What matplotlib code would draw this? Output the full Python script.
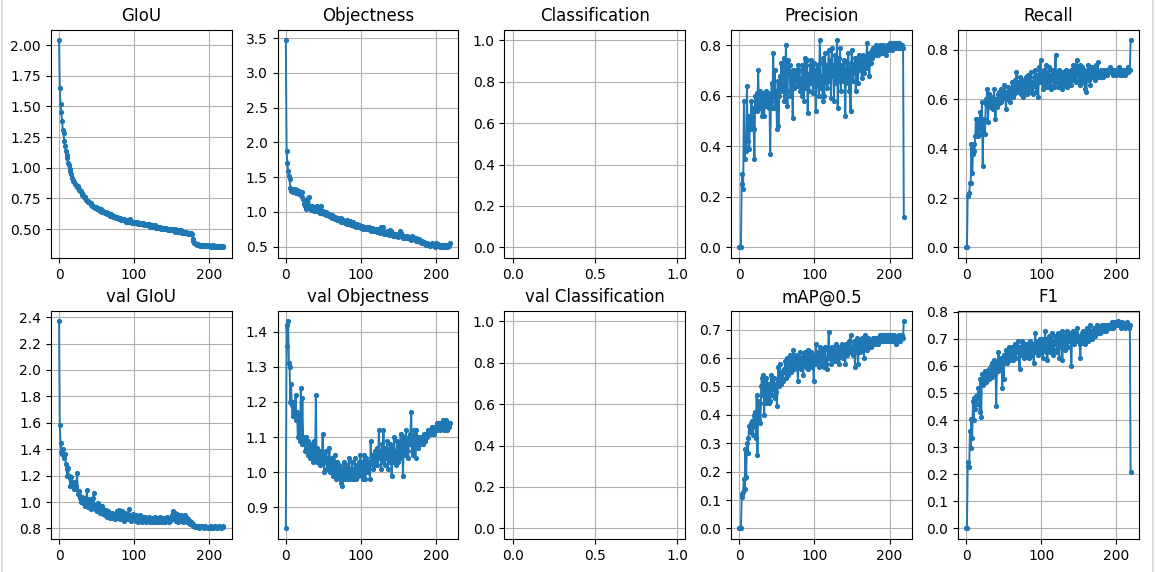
import numpy as np
import matplotlib
matplotlib.use('Agg')
from matplotlib import pyplot as plt
from matplotlib.lines import Line2D

# training curves, one value per epoch (0..219)
giou = [2.04, 1.65, 1.52, 1.45, 1.38, 1.31, 1.28, 1.22, 1.18, 1.14,
        1.10, 1.08, 1.04, 1.02, 0.99, 0.97, 0.95, 0.92, 0.90, 0.89,
        0.88, 0.87, 0.86, 0.86, 0.84, 0.85, 0.83, 0.82, 0.81, 0.81,
        0.79, 0.78, 0.78, 0.76, 0.76, 0.75, 0.74, 0.73, 0.73, 0.72,
        0.72, 0.71, 0.70, 0.71, 0.69, 0.69, 0.68, 0.68, 0.67, 0.68,
        0.67, 0.66, 0.67, 0.66, 0.65, 0.65, 0.66, 0.64, 0.65, 0.64,
        0.64, 0.63, 0.64, 0.63, 0.62, 0.63, 0.62, 0.62, 0.61, 0.62,
        0.61, 0.61, 0.60, 0.61, 0.60, 0.60, 0.59, 0.60, 0.59, 0.59,
        0.58, 0.59, 0.58, 0.57, 0.58, 0.57, 0.58, 0.57, 0.57, 0.56,
        0.57, 0.56, 0.57, 0.56, 0.56, 0.58, 0.56, 0.55, 0.56, 0.56,
        0.55, 0.56, 0.55, 0.55, 0.56, 0.54, 0.55, 0.55, 0.54, 0.55,
        0.54, 0.54, 0.55, 0.53, 0.54, 0.54, 0.53, 0.54, 0.53, 0.53,
        0.54, 0.52, 0.53, 0.53, 0.52, 0.53, 0.52, 0.52, 0.53, 0.51,
        0.52, 0.51, 0.52, 0.51, 0.51, 0.52, 0.50, 0.51, 0.51, 0.50,
        0.51, 0.50, 0.50, 0.51, 0.50, 0.49, 0.50, 0.50, 0.49, 0.50,
        0.49, 0.50, 0.49, 0.49, 0.50, 0.48, 0.49, 0.49, 0.48, 0.49,
        0.48, 0.48, 0.49, 0.48, 0.47, 0.48, 0.48, 0.47, 0.47, 0.48,
        0.47, 0.47, 0.46, 0.47, 0.47, 0.46, 0.47, 0.46, 0.42, 0.40,
        0.39, 0.39, 0.38, 0.38, 0.37, 0.38, 0.37, 0.37, 0.36, 0.37,
        0.37, 0.36, 0.36, 0.37, 0.36, 0.36, 0.37, 0.36, 0.36, 0.36,
        0.37, 0.36, 0.36, 0.35, 0.36, 0.37, 0.36, 0.35, 0.36, 0.36,
        0.35, 0.36, 0.36, 0.35, 0.36, 0.35, 0.36, 0.35, 0.35, 0.36]

objectness = [3.47, 1.87, 1.71, 1.59, 1.52, 1.47, 1.35, 1.30, 1.33, 1.29,
              1.31, 1.28, 1.33, 1.30, 1.27, 1.32, 1.29, 1.26, 1.30, 1.27,
              1.25, 1.28, 1.22, 1.18, 1.12, 1.08, 1.15, 1.04, 1.12, 1.20,
              1.10, 1.22, 1.05, 1.08, 1.03, 1.09, 1.06, 1.02, 1.07, 1.05,
              1.03, 1.08, 1.01, 1.06, 1.00, 1.04, 0.99, 1.09, 1.02, 0.98,
              1.01, 0.97, 0.99, 1.00, 0.96, 0.98, 0.95, 0.97, 0.94, 0.96,
              0.93, 0.95, 0.92, 0.94, 0.91, 0.93, 0.90, 0.92, 0.89, 0.91,
              0.88, 0.90, 0.87, 0.91, 0.86, 0.88, 0.89, 0.85, 0.87, 0.84,
              0.86, 0.83, 0.88, 0.85, 0.82, 0.87, 0.84, 0.81, 0.83, 0.85,
              0.82, 0.80, 0.83, 0.81, 0.79, 0.82, 0.80, 0.78, 0.81, 0.79,
              0.77, 0.80, 0.78, 0.76, 0.79, 0.77, 0.75, 0.78, 0.76, 0.77,
              0.75, 0.78, 0.74, 0.76, 0.73, 0.77, 0.75, 0.72, 0.74, 0.76,
              0.73, 0.71, 0.75, 0.72, 0.74, 0.70, 0.73, 0.78, 0.71, 0.79,
              0.72, 0.69, 0.71, 0.68, 0.70, 0.72, 0.69, 0.67, 0.70, 0.74,
              0.72, 0.68, 0.70, 0.66, 0.69, 0.67, 0.65, 0.68, 0.66, 0.64,
              0.67, 0.65, 0.72, 0.68, 0.70, 0.65, 0.63, 0.66, 0.64, 0.62,
              0.65, 0.63, 0.66, 0.62, 0.64, 0.61, 0.63, 0.60, 0.66, 0.62,
              0.64, 0.61, 0.62, 0.59, 0.63, 0.60, 0.58, 0.61, 0.59, 0.57,
              0.58, 0.56, 0.59, 0.55, 0.57, 0.54, 0.56, 0.53, 0.55, 0.52,
              0.54, 0.53, 0.51, 0.54, 0.52, 0.55, 0.53, 0.51, 0.52, 0.50,
              0.56, 0.53, 0.51, 0.54, 0.52, 0.50, 0.53, 0.51, 0.49, 0.52,
              0.50, 0.53, 0.51, 0.49, 0.52, 0.50, 0.53, 0.51, 0.52, 0.55]

precision = [0.00, 0.00, 0.00, 0.25, 0.29, 0.23, 0.58, 0.35, 0.40, 0.38,
             0.64, 0.42, 0.52, 0.39, 0.50, 0.47, 0.58, 0.48, 0.55, 0.47,
             0.35, 0.60, 0.55, 0.61, 0.54, 0.70, 0.55, 0.62, 0.60, 0.56,
             0.52, 0.61, 0.58, 0.52, 0.60, 0.62, 0.56, 0.59, 0.61, 0.55,
             0.60, 0.37, 0.58, 0.65, 0.55, 0.77, 0.60, 0.70, 0.55, 0.62,
             0.47, 0.66, 0.48, 0.60, 0.68, 0.62, 0.73, 0.64, 0.70, 0.75,
             0.58, 0.68, 0.80, 0.62, 0.56, 0.74, 0.69, 0.72, 0.60, 0.66,
             0.68, 0.51, 0.70, 0.63, 0.68, 0.66, 0.70, 0.64, 0.72, 0.65,
             0.70, 0.62, 0.67, 0.60, 0.72, 0.66, 0.58, 0.75, 0.63, 0.69,
             0.74, 0.53, 0.68, 0.62, 0.72, 0.65, 0.74, 0.70, 0.61, 0.73,
             0.64, 0.70, 0.54, 0.68, 0.72, 0.66, 0.60, 0.82, 0.73, 0.63,
             0.68, 0.58, 0.75, 0.60, 0.77, 0.65, 0.72, 0.63, 0.70, 0.78,
             0.66, 0.74, 0.59, 0.79, 0.68, 0.72, 0.58, 0.76, 0.65, 0.71,
             0.82, 0.55, 0.75, 0.66, 0.79, 0.62, 0.72, 0.70, 0.66, 0.74,
             0.68, 0.52, 0.70, 0.73, 0.65, 0.77, 0.62, 0.71, 0.54, 0.73,
             0.78, 0.66, 0.72, 0.69, 0.75, 0.62, 0.74, 0.70, 0.65, 0.76,
             0.72, 0.70, 0.74, 0.67, 0.76, 0.72, 0.69, 0.75, 0.71, 0.73,
             0.81, 0.72, 0.77, 0.68, 0.76, 0.73, 0.78, 0.75, 0.79, 0.77,
             0.76, 0.78, 0.80, 0.77, 0.79, 0.76, 0.78, 0.80, 0.77, 0.79,
             0.78, 0.80, 0.77, 0.79, 0.78, 0.76, 0.79, 0.80, 0.78, 0.80,
             0.81, 0.79, 0.80, 0.78, 0.81, 0.79, 0.80, 0.81, 0.79, 0.80,
             0.81, 0.80, 0.79, 0.81, 0.80, 0.79, 0.80, 0.79, 0.79, 0.12]

recall = [0.00, 0.00, 0.21, 0.21, 0.22, 0.26, 0.26, 0.42, 0.30, 0.38,
          0.42, 0.39, 0.45, 0.52, 0.46, 0.50, 0.45, 0.52, 0.48, 0.55,
          0.46, 0.59, 0.33, 0.50, 0.52, 0.46, 0.58, 0.60, 0.64, 0.51,
          0.60, 0.62, 0.57, 0.60, 0.58, 0.61, 0.56, 0.64, 0.59, 0.52,
          0.60, 0.57, 0.62, 0.58, 0.63, 0.61, 0.59, 0.64, 0.60, 0.62,
          0.61, 0.66, 0.62, 0.56, 0.63, 0.60, 0.65, 0.62, 0.64, 0.59,
          0.63, 0.67, 0.61, 0.65, 0.62, 0.68, 0.64, 0.71, 0.66, 0.63,
          0.67, 0.64, 0.69, 0.62, 0.66, 0.61, 0.68, 0.65, 0.63, 0.69,
          0.66, 0.62, 0.70, 0.64, 0.68, 0.63, 0.71, 0.65, 0.67, 0.62,
          0.69, 0.66, 0.72, 0.63, 0.70, 0.67, 0.61, 0.73, 0.68, 0.76,
          0.67, 0.70, 0.64, 0.72, 0.66, 0.69, 0.74, 0.65, 0.71, 0.68,
          0.73, 0.66, 0.70, 0.64, 0.72, 0.68, 0.71, 0.65, 0.70, 0.78,
          0.67, 0.71, 0.65, 0.69, 0.72, 0.66, 0.70, 0.64, 0.68, 0.71,
          0.66, 0.70, 0.67, 0.72, 0.65, 0.69, 0.71, 0.67, 0.70, 0.66,
          0.72, 0.68, 0.74, 0.69, 0.71, 0.73, 0.67, 0.76, 0.70, 0.72,
          0.68, 0.74, 0.66, 0.71, 0.73, 0.67, 0.70, 0.72, 0.64, 0.71,
          0.63, 0.69, 0.74, 0.68, 0.72, 0.66, 0.71, 0.69, 0.73, 0.70,
          0.72, 0.68, 0.71, 0.74, 0.69, 0.75, 0.70, 0.71, 0.69, 0.72,
          0.70, 0.71, 0.69, 0.71, 0.72, 0.70, 0.71, 0.72, 0.70, 0.71,
          0.72, 0.71, 0.73, 0.71, 0.72, 0.70, 0.72, 0.71, 0.72, 0.71,
          0.70, 0.72, 0.71, 0.73, 0.71, 0.70, 0.72, 0.71, 0.70, 0.71,
          0.72, 0.71, 0.70, 0.72, 0.71, 0.73, 0.71, 0.72, 0.72, 0.84]

val_giou = [2.37, 1.58, 1.45, 1.38, 1.36, 1.40, 1.35, 1.33, 1.36, 1.29,
            1.25, 1.20, 1.26, 1.20, 1.18, 1.12, 1.19, 1.15, 1.14, 1.12,
            1.10, 1.15, 1.12, 1.10, 1.22, 1.06, 1.08, 1.05, 1.03, 1.00,
            1.04, 1.01, 0.99, 1.02, 0.97, 1.03, 0.98, 1.09, 1.00, 0.96,
            1.02, 0.97, 1.00, 0.95, 0.99, 1.03, 1.07, 0.96, 0.98, 0.94,
            0.97, 0.93, 0.99, 0.95, 0.92, 0.96, 0.94, 0.97, 0.91, 0.95,
            0.93, 0.90, 0.94, 0.91, 0.89, 0.93, 0.90, 0.92, 0.88, 0.91,
            0.89, 0.92, 0.88, 0.90, 0.87, 0.91, 0.89, 0.93, 0.88, 0.90,
            0.94, 0.87, 0.91, 0.89, 0.93, 0.88, 0.90, 0.86, 0.92, 0.89,
            0.87, 0.91, 0.88, 0.95, 0.87, 0.90, 0.86, 0.89, 0.88, 0.91,
            0.87, 0.89, 0.86, 0.90, 0.88, 0.85, 0.89, 0.87, 0.90, 0.86,
            0.88, 0.85, 0.89, 0.87, 0.86, 0.89, 0.85, 0.88, 0.87, 0.86,
            0.89, 0.85, 0.88, 0.86, 0.87, 0.85, 0.88, 0.86, 0.89, 0.85,
            0.87, 0.86, 0.88, 0.85, 0.87, 0.89, 0.86, 0.85, 0.88, 0.86,
            0.87, 0.85, 0.88, 0.86, 0.89, 0.87, 0.85, 0.88, 0.86, 0.87,
            0.88, 0.90, 0.93, 0.87, 0.92, 0.89, 0.86, 0.91, 0.88, 0.85,
            0.89, 0.87, 0.86, 0.90, 0.88, 0.85, 0.89, 0.87, 0.90, 0.86,
            0.88, 0.85, 0.87, 0.84, 0.86, 0.83, 0.85, 0.84, 0.82, 0.83,
            0.82, 0.81, 0.82, 0.81, 0.82, 0.81, 0.80, 0.82, 0.81, 0.81,
            0.82, 0.81, 0.81, 0.80, 0.81, 0.82, 0.81, 0.81, 0.80, 0.81,
            0.81, 0.80, 0.81, 0.82, 0.81, 0.80, 0.81, 0.81, 0.82, 0.81,
            0.80, 0.81, 0.81, 0.82, 0.81, 0.81, 0.80, 0.81, 0.82, 0.81]

val_objectness = [0.84, 1.42, 1.36, 1.43, 1.31, 1.30, 1.20, 1.25, 1.19, 1.16,
                  1.20, 1.17, 1.16, 1.22, 1.15, 1.17, 1.10, 1.16, 1.12, 1.09,
                  1.24, 1.08, 1.21, 1.10, 1.09, 1.08, 1.06, 1.10, 1.07, 1.05,
                  1.09, 1.06, 1.04, 1.08, 1.05, 1.07, 1.03, 1.06, 1.09, 1.04,
                  1.22, 1.03, 1.07, 1.04, 1.06, 1.02, 1.05, 1.03, 1.04, 1.11,
                  1.05, 1.00, 1.04, 1.03, 1.06, 1.01, 1.04, 1.02, 1.07, 1.00,
                  1.03, 1.01, 1.04, 0.99, 1.02, 1.05, 1.00, 0.98, 1.03, 1.01,
                  0.99, 1.02, 0.98, 1.01, 0.97, 0.96, 1.00, 1.03, 0.98, 1.01,
                  1.00, 0.98, 1.02, 0.99, 1.04, 0.98, 1.01, 0.99, 1.03, 0.98,
                  1.01, 0.99, 1.04, 0.98, 1.00, 1.02, 0.99, 1.03, 1.00, 1.05,
                  1.01, 0.99, 1.03, 0.98, 1.05, 1.00, 0.98, 1.04, 1.01, 1.03,
                  1.00, 1.02, 0.98, 1.09, 1.03, 1.05, 1.01, 1.04, 1.02, 1.06,
                  1.03, 1.07, 1.02, 1.05, 1.12, 1.04, 1.06, 1.01, 1.08, 1.03,
                  1.12, 1.05, 1.02, 1.07, 1.04, 1.09, 1.01, 1.06, 1.03, 1.08,
                  1.05, 0.99, 1.07, 1.03, 1.10, 1.04, 1.06, 1.02, 1.09, 1.05,
                  1.03, 1.08, 1.06, 1.11, 1.04, 1.09, 0.99, 1.07, 1.10, 1.05,
                  1.12, 1.06, 1.09, 1.04, 1.10, 1.08, 1.11, 1.17, 1.06, 1.10,
                  1.05, 1.12, 1.08, 1.04, 1.12, 1.09, 1.07, 1.10, 1.08, 1.09,
                  1.08, 1.09, 1.10, 1.08, 1.11, 1.09, 1.10, 1.11, 1.10, 1.12,
                  1.11, 1.12, 1.11, 1.12, 1.11, 1.13, 1.12, 1.11, 1.13, 1.12,
                  1.13, 1.14, 1.12, 1.13, 1.14, 1.12, 1.13, 1.14, 1.13, 1.15,
                  1.14, 1.12, 1.15, 1.13, 1.15, 1.12, 1.14, 1.13, 1.14, 1.14]

map05 = [0.00, 0.00, 0.00, 0.11, 0.12, 0.13, 0.175, 0.14, 0.28, 0.18,
         0.30, 0.265, 0.32, 0.36, 0.34, 0.37, 0.35, 0.38, 0.33, 0.40,
         0.36, 0.41, 0.32, 0.47, 0.26, 0.45, 0.38, 0.44, 0.37, 0.50,
         0.53, 0.47, 0.54, 0.40, 0.52, 0.44, 0.53, 0.46, 0.51, 0.44,
         0.50, 0.45, 0.54, 0.47, 0.52, 0.49, 0.53, 0.46, 0.51, 0.48,
         0.43, 0.52, 0.57, 0.50, 0.58, 0.53, 0.51, 0.55, 0.52, 0.56,
         0.55, 0.59, 0.53, 0.57, 0.60, 0.54, 0.58, 0.56, 0.61, 0.55,
         0.59, 0.57, 0.63, 0.56, 0.60, 0.58, 0.61, 0.57, 0.52, 0.60,
         0.58, 0.62, 0.56, 0.60, 0.59, 0.54, 0.61, 0.58, 0.62, 0.57,
         0.60, 0.56, 0.63, 0.58, 0.61, 0.59, 0.62, 0.57, 0.60, 0.52,
         0.61, 0.58, 0.65, 0.59, 0.62, 0.60, 0.57, 0.64, 0.61, 0.58,
         0.63, 0.59, 0.62, 0.57, 0.64, 0.60, 0.58, 0.56, 0.63, 0.69,
         0.60, 0.62, 0.58, 0.64, 0.61, 0.59, 0.63, 0.60, 0.65, 0.59,
         0.62, 0.60, 0.64, 0.58, 0.63, 0.61, 0.65, 0.62, 0.60, 0.64,
         0.63, 0.58, 0.65, 0.61, 0.64, 0.62, 0.66, 0.63, 0.68, 0.62,
         0.64, 0.61, 0.66, 0.63, 0.57, 0.65, 0.62, 0.67, 0.58, 0.64,
         0.66, 0.62, 0.65, 0.67, 0.63, 0.66, 0.60, 0.68, 0.64, 0.66,
         0.63, 0.67, 0.64, 0.66, 0.65, 0.64, 0.66, 0.65, 0.67, 0.65,
         0.66, 0.65, 0.67, 0.66, 0.65, 0.67, 0.66, 0.68, 0.66, 0.67,
         0.68, 0.66, 0.67, 0.68, 0.67, 0.66, 0.68, 0.67, 0.66, 0.68,
         0.67, 0.66, 0.68, 0.67, 0.66, 0.67, 0.68, 0.66, 0.67, 0.65,
         0.67, 0.66, 0.68, 0.67, 0.66, 0.67, 0.68, 0.67, 0.67, 0.73]

f1 = [0.00, 0.00, 0.23, 0.245, 0.225, 0.36, 0.295, 0.405, 0.335, 0.47,
      0.40, 0.48, 0.44, 0.49, 0.46, 0.48, 0.52, 0.50, 0.43, 0.55,
      0.41, 0.57, 0.53, 0.57, 0.55, 0.58, 0.56, 0.54, 0.58, 0.57,
      0.55, 0.59, 0.57, 0.60, 0.56, 0.61, 0.58, 0.62, 0.57, 0.60,
      0.45, 0.61, 0.58, 0.65, 0.60, 0.62, 0.59, 0.63, 0.52, 0.61,
      0.55, 0.64, 0.62, 0.66, 0.61, 0.65, 0.63, 0.67, 0.62, 0.65,
      0.64, 0.67, 0.62, 0.66, 0.64, 0.68, 0.63, 0.67, 0.65, 0.69,
      0.66, 0.59, 0.67, 0.64, 0.69, 0.65, 0.67, 0.63, 0.68, 0.66,
      0.64, 0.68, 0.65, 0.67, 0.63, 0.69, 0.66, 0.64, 0.68, 0.65,
      0.61, 0.67, 0.72, 0.65, 0.68, 0.64, 0.69, 0.66, 0.70, 0.65,
      0.67, 0.70, 0.63, 0.69, 0.66, 0.73, 0.65, 0.70, 0.62, 0.68,
      0.71, 0.65, 0.70, 0.67, 0.72, 0.64, 0.69, 0.66, 0.71, 0.68,
      0.70, 0.65, 0.72, 0.67, 0.63, 0.71, 0.68, 0.73, 0.62, 0.70,
      0.72, 0.66, 0.71, 0.68, 0.73, 0.67, 0.70, 0.72, 0.69, 0.71,
      0.60, 0.70, 0.73, 0.68, 0.71, 0.69, 0.72, 0.70, 0.74, 0.69,
      0.71, 0.68, 0.63, 0.70, 0.72, 0.69, 0.73, 0.70, 0.68, 0.72,
      0.71, 0.74, 0.69, 0.72, 0.70, 0.75, 0.71, 0.73, 0.70, 0.72,
      0.74, 0.71, 0.73, 0.72, 0.75, 0.72, 0.74, 0.73, 0.72, 0.74,
      0.73, 0.75, 0.74, 0.73, 0.75, 0.74, 0.73, 0.74, 0.75, 0.74,
      0.75, 0.74, 0.75, 0.74, 0.76, 0.75, 0.74, 0.75, 0.76, 0.75,
      0.76, 0.75, 0.765, 0.75, 0.76, 0.75, 0.74, 0.75, 0.76, 0.75,
      0.75, 0.74, 0.75, 0.75, 0.76, 0.75, 0.75, 0.74, 0.75, 0.21]

titles = ['GIoU', 'Objectness', 'Classification', 'Precision', 'Recall',
          'val GIoU', 'val Objectness', 'val Classification', 'mAP@0.5', 'F1']
series = [giou, objectness, None, precision, recall,
          val_giou, val_objectness, None, map05, f1]

# panels whose tick spacing is finer than the default locator picks
yticks = {5: np.arange(0.8, 2.41, 0.2),
          8: np.arange(0.0, 0.71, 0.1),
          9: np.arange(0.0, 0.81, 0.1)}

fig, ax = plt.subplots(2, 5, figsize=(11.55, 5.72), dpi=100)
ax = ax.ravel()
for i in range(10):
    y = series[i]
    if y is not None:
        ax[i].plot(np.arange(len(y)), y, marker='.', linewidth=1.4, markersize=5.5, color='#1f77b4')
        ax[i].set_xticks([0, 100, 200])
    else:
        ax[i].set_xlim(-0.05, 1.05)
        ax[i].set_ylim(-0.05, 1.05)
        ax[i].set_xticks([0.0, 0.5, 1.0])
    if i in yticks:
        ax[i].set_yticks(yticks[i])
    ax[i].set_title(titles[i], fontsize=12)
    ax[i].tick_params(labelsize=10)
    ax[i].grid(True)

fig.subplots_adjust(left=0.044, right=0.986, top=0.948, bottom=0.058, wspace=0.254, hspace=0.232)

# thin frame of the screenshot
fig.add_artist(Line2D([0.0017, 0.0017], [0, 1], color='#d4d4d4', linewidth=1.2, transform=fig.transFigure))
fig.add_artist(Line2D([0.998, 0.998], [0, 1], color='#d4d4d4', linewidth=1.2, transform=fig.transFigure))

fig.savefig('out.png', dpi=100)
